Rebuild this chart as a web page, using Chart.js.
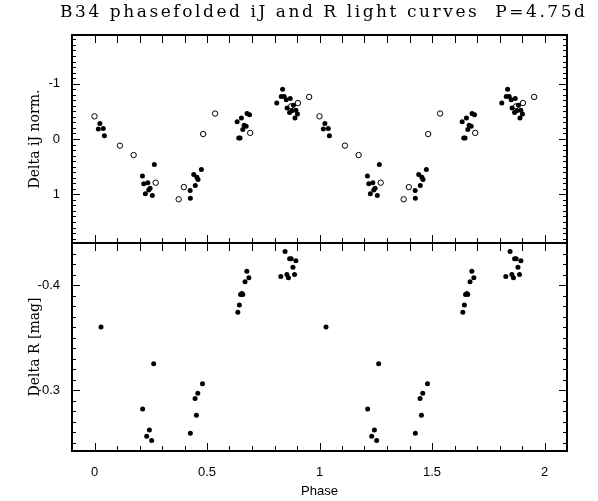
<!DOCTYPE html>
<html>
<head>
<meta charset="utf-8">
<script src="https://cdn.jsdelivr.net/npm/chart.js@4.4.0/dist/chart.umd.min.js"></script>
<style>
  html, body { margin: 0; padding: 0; background: #fff; }
</style>
</head>
<body>
<canvas id="lc" width="598" height="501"></canvas>
<script>
// one cycle of each light curve, plotted twice (phase and phase + 1)
const ijPhase = [0.017, 0.024, 0.039, 0.044, 0.213, 0.219, 0.226, 0.237, 0.241, 0.247, 0.257, 0.266,
  0.425, 0.426, 0.441, 0.448, 0.455, 0.460, 0.475, 0.634, 0.641, 0.647, 0.653, 0.659, 0.665, 0.674,
  0.678, 0.689, 0.810, 0.830, 0.836, 0.843, 0.852, 0.856, 0.867, 0.870, 0.877, 0.884, 0.891, 0.895, 0.902];
const ijDelta = [-0.18, -0.28, -0.19, -0.06, 0.67, 0.81, 0.99, 0.79, 0.92, 0.89, 1.02, 0.46,
  0.93, 1.07, 0.64, 0.84, 0.69, 0.73, 0.55, -0.31, -0.02, -0.02, -0.38, -0.17, -0.25, -0.23,
  -0.46, -0.44, -0.65, -0.77, -0.90, -0.77, -0.71, -0.56, -0.48, -0.73, -0.51, -0.61, -0.38, -0.52, -0.45];

// open circles (second iJ set)
const ijOpenPhase = [0.000, 0.113, 0.174, 0.272, 0.374, 0.397, 0.483, 0.536, 0.692, 0.874, 0.904, 0.954];
const ijOpenDelta = [-0.41, 0.12, 0.29, 0.79, 1.09, 0.87, -0.09, -0.46, -0.11, -0.59, -0.65, -0.76];

const rPhase = [0.029, 0.214, 0.232, 0.244, 0.254, 0.263, 0.426, 0.447, 0.453, 0.459, 0.480,
  0.637, 0.644, 0.649, 0.655, 0.659, 0.669, 0.677, 0.686,
  0.828, 0.847, 0.855, 0.862, 0.867, 0.874, 0.882, 0.889, 0.895];
const rDelta = [-0.360, -0.282, -0.256, -0.262, -0.252, -0.325, -0.259, -0.292, -0.276, -0.297, -0.306,
  -0.374, -0.381, -0.391, -0.392, -0.391, -0.403, -0.413, -0.407,
  -0.408, -0.432, -0.410, -0.407, -0.425, -0.425, -0.417, -0.410, -0.423];

const phaseTicks = [0, 0.5, 1, 1.5, 2];
const ijTicks = [-1, 0, 1];
const rTicks = [-0.4, -0.3];

const chartTitle = 'B34 phasefolded iJ and R light curves  P=4.75d';

// two copies of the cycle
const fold = (ph, val) => [
  ...ph.map((p, i) => ({ x: p, y: val[i] })),
  ...ph.map((p, i) => ({ x: p + 1, y: val[i] }))
];

const sans = 'Liberation Sans';
const serif = 'DejaVu Serif';

// inward tick marks and the box of one panel
const drawPanel = (ctx, xs, ys, yStep, yMajor) => {
  const l = xs.left, r = xs.right, t = ys.top, b = ys.bottom;
  ctx.lineWidth = 1;
  ctx.beginPath();
  for (let i = -1; i <= 21; i++) {
    const px = Math.round(xs.getPixelForValue(i / 10)) + 0.5;
    const big = i % 5 === 0;
    ctx.moveTo(px, t); ctx.lineTo(px, t + 8);
    ctx.moveTo(px, b); ctx.lineTo(px, b - (big ? 8 : 5));
  }
  const lo = Math.min(ys.min, ys.max), hi = Math.max(ys.min, ys.max);
  for (let i = Math.ceil(lo / yStep - 1e-6); i * yStep <= hi + 1e-9; i++) {
    const py = Math.round(ys.getPixelForValue(i * yStep)) + 0.5;
    const len = i % yMajor === 0 ? 8 : 4;
    ctx.moveTo(l, py); ctx.lineTo(l + len, py);
    ctx.moveTo(r, py); ctx.lineTo(r - len, py);
  }
  ctx.stroke();
  ctx.lineWidth = 2;
  ctx.strokeRect(l, t, r - l, b - t);
};

const framePlugin = {
  id: 'frame',
  afterDraw(chart) {
    const { ctx, scales } = chart;
    ctx.save();
    ctx.strokeStyle = '#000';
    drawPanel(ctx, scales.x, scales.yJ, 0.1, 10);
    drawPanel(ctx, scales.x, scales.yR, 0.01, 10);

    // title, spread out letter by letter to the width of the original
    ctx.font = '17px "' + serif + '"';
    ctx.fillStyle = '#000';
    ctx.textAlign = 'left';
    ctx.textBaseline = 'alphabetic';
    const chars = [...chartTitle];
    const widths = chars.map(c => ctx.measureText(c).width);
    const total = widths.reduce((a, b) => a + b, 0);
    const x0 = 60, span = 525;
    const gap = (span - total) / (chars.length - 1);
    let x = x0;
    chars.forEach((c, i) => {
      ctx.fillText(c, x, 17);
      x += widths[i] + gap;
    });
    ctx.restore();
  }
};

Chart.defaults.color = '#000';

const yAxis = (min, max, ticks, label, fmt) => ({
  type: 'linear',
  position: 'left',
  stack: 'panels',
  stackWeight: 1,
  reverse: true,
  min: min,
  max: max,
  grid: { display: false },
  border: { display: false },
  afterBuildTicks: s => { s.ticks = ticks.map(v => ({ value: v })); },
  afterFit: s => { s.width = 72; },
  ticks: { font: { family: sans, size: 13 }, padding: 4, callback: fmt },
  title: { display: true, text: label, font: { family: serif, size: 14 }, padding: { top: 27, bottom: 0 } }
});

new Chart(document.getElementById('lc'), {
  type: 'scatter',
  data: {
    datasets: [
      {
        label: 'iJ',
        data: fold(ijPhase, ijDelta),
        yAxisID: 'yJ',
        pointRadius: 2.5,
        pointBackgroundColor: '#000',
        pointBorderWidth: 0
      },
      {
        label: 'iJ open',
        data: fold(ijOpenPhase, ijOpenDelta),
        yAxisID: 'yJ',
        pointRadius: 2.7,
        pointBackgroundColor: '#fff',
        pointBorderColor: '#000',
        pointBorderWidth: 1
      },
      {
        label: 'R',
        data: fold(rPhase, rDelta),
        yAxisID: 'yR',
        pointRadius: 2.5,
        pointBackgroundColor: '#000',
        pointBorderWidth: 0
      }
    ]
  },
  options: {
    responsive: false,
    animation: false,
    layout: { padding: { top: 35, right: 31, left: 0, bottom: 0 } },
    plugins: {
      legend: { display: false },
      title: { display: false },
      tooltip: { enabled: false }
    },
    scales: {
      x: {
        type: 'linear',
        min: -0.1,
        max: 2.1,
        grid: { display: false },
        border: { display: false },
        afterBuildTicks: s => { s.ticks = phaseTicks.map(v => ({ value: v })); },
        afterFit: s => { s.height = 50; },
        ticks: { font: { family: sans, size: 13 }, padding: 6, maxRotation: 0, autoSkip: false,
          callback: v => String(v) },
        title: { display: true, text: 'Phase', font: { family: sans, size: 13 }, padding: { top: 0, bottom: 2 } }
      },
      yR: yAxis(-0.44, -0.242, rTicks, 'Delta R [mag]', v => v.toFixed(1)),
      yJ: yAxis(-1.88, 1.88, ijTicks, 'Delta iJ norm.', v => String(v))
    }
  },
  plugins: [framePlugin]
});
</script>
</body>
</html>
